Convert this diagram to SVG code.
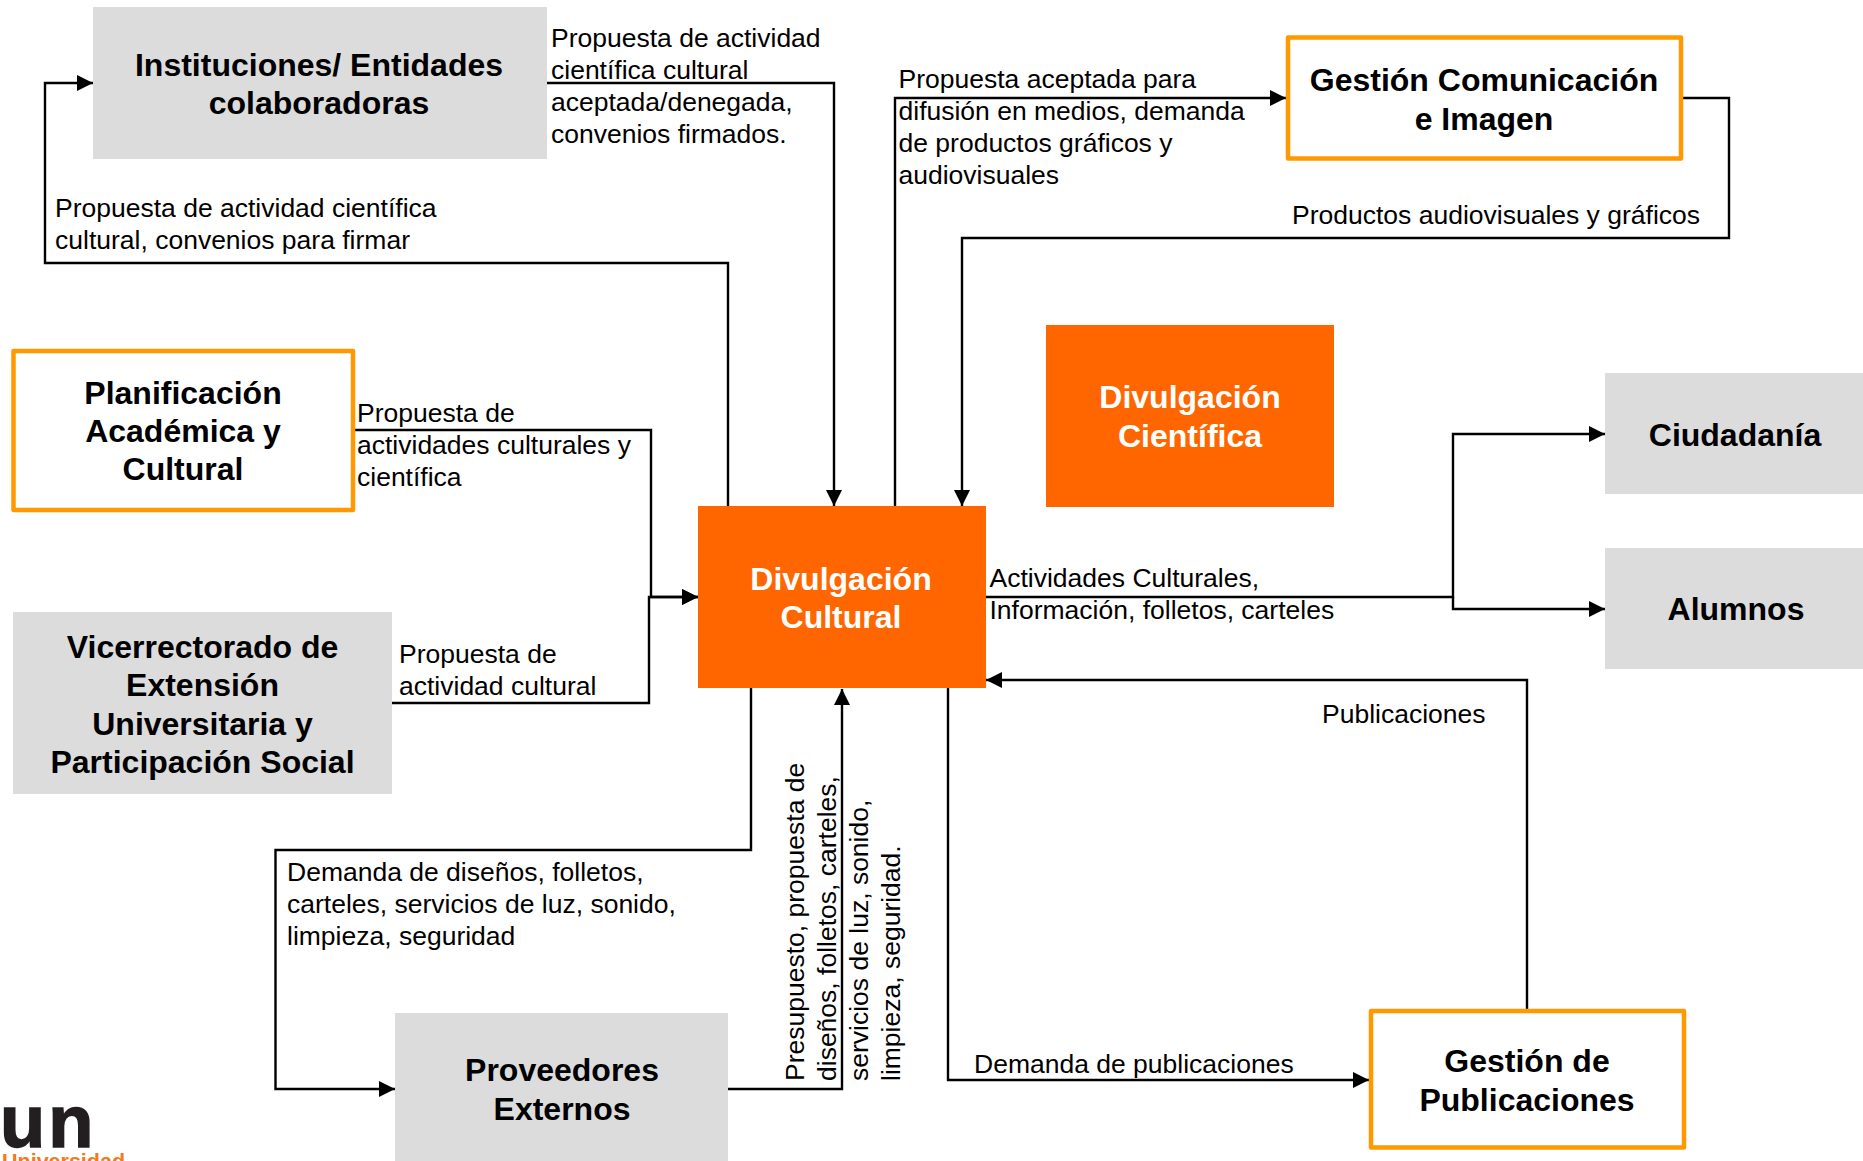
<svg xmlns="http://www.w3.org/2000/svg" width="1863" height="1161" viewBox="0 0 1863 1161">
<style>
text{font-family:"Liberation Sans",Arial,sans-serif;fill:#000}
.t{font-size:26.5px}
.b{font-size:32px;font-weight:700;text-anchor:middle}
.w{fill:#fff}
.g{fill:#dcdcdc}
.o{fill:#ff6600}
.h{fill:#fff;stroke:#ff9900;stroke-width:4.500;stroke-linejoin:round}
.c{fill:none;stroke:#000;stroke-width:2.4}
</style>
<defs><marker id="a" viewBox="0 0 16 16" refX="16" refY="8" markerWidth="16" markerHeight="16" markerUnits="userSpaceOnUse" orient="auto"><path d="M0 0L16 8L0 16Z" fill="#000"/></marker></defs>
<g id="connectors">
<path class="c" marker-end="url(#a)" d="M728 506V263H45V83H93"/>
<path class="c" marker-end="url(#a)" d="M547 83H834V506"/>
<path class="c" marker-end="url(#a)" d="M355 430H651V597H698"/>
<path class="c" marker-end="url(#a)" d="M392 703H649V597H698"/>
<path class="c" marker-end="url(#a)" d="M895 506V98H1286"/>
<path class="c" marker-end="url(#a)" d="M1683 98H1729V238H962V506"/>
<path class="c" marker-end="url(#a)" d="M986 597H1453V434H1605"/>
<path class="c" marker-end="url(#a)" d="M1453 597V609H1605"/>
<path class="c" marker-end="url(#a)" d="M1527 1010V680H986"/>
<path class="c" marker-end="url(#a)" d="M948 688V1080H1369"/>
<path class="c" marker-end="url(#a)" d="M751 688V850H275.500V1089H395"/>
<path class="c" marker-end="url(#a)" d="M728 1089H842V689"/>
</g>
<g id="instituciones"><rect class="g" x="93" y="7" width="454" height="152"/><text class="b" x="319" y="76">Instituciones/ Entidades</text><text class="b" x="319" y="114">colaboradoras</text></g>
<g id="planificacion"><rect class="h" x="13.500" y="351" width="339.500" height="159"/><text class="b" x="183" y="404">Planificación</text><text class="b" x="183" y="442">Académica y</text><text class="b" x="183" y="480">Cultural</text></g>
<g id="vicerrectorado"><rect class="g" x="13" y="612" width="379" height="182"/><text class="b" x="202.500" y="658">Vicerrectorado de</text><text class="b" x="202.500" y="696">Extensión</text><text class="b" x="202.500" y="735">Universitaria y</text><text class="b" x="202.500" y="773">Participación Social</text></g>
<g id="divulgacion-cultural"><rect class="o" x="698" y="506" width="288" height="182"/><text class="b w" x="841" y="590">Divulgación</text><text class="b w" x="841" y="628">Cultural</text></g>
<g id="divulgacion-cientifica"><rect class="o" x="1046" y="325" width="288" height="182"/><text class="b w" x="1190" y="408">Divulgación</text><text class="b w" x="1190" y="447">Científica</text></g>
<g id="gestion-comunicacion"><rect class="h" x="1288" y="37.500" width="393" height="121"/><text class="b" x="1484" y="91">Gestión Comunicación</text><text class="b" x="1484" y="130">e Imagen</text></g>
<g id="ciudadania"><rect class="g" x="1605" y="373" width="258" height="121"/><text class="b" x="1735" y="446">Ciudadanía</text></g>
<g id="alumnos"><rect class="g" x="1605" y="548" width="258" height="121"/><text class="b" x="1736" y="620">Alumnos</text></g>
<g id="proveedores"><rect class="g" x="395" y="1013" width="333" height="148"/><text class="b" x="562" y="1081">Proveedores</text><text class="b" x="562" y="1120">Externos</text></g>
<g id="gestion-publicaciones"><rect class="h" x="1371" y="1011" width="313" height="136.500"/><text class="b" x="1527" y="1072">Gestión de</text><text class="b" x="1527" y="1111">Publicaciones</text></g>
<g id="labels">
<text class="t" x="551" y="47">Propuesta de actividad</text><text class="t" x="551" y="79">científica cultural</text><text class="t" x="551" y="111">aceptada/denegada,</text><text class="t" x="551" y="143">convenios firmados.</text>
<text class="t" x="55" y="217">Propuesta de actividad científica</text><text class="t" x="55" y="249">cultural, convenios para firmar</text>
<text class="t" x="357" y="422">Propuesta de</text><text class="t" x="357" y="454">actividades culturales y</text><text class="t" x="357" y="486">científica</text>
<text class="t" x="399" y="663">Propuesta de</text><text class="t" x="399" y="695">actividad cultural</text>
<text class="t" x="898.500" y="88">Propuesta aceptada para</text><text class="t" x="898.500" y="120">difusión en medios, demanda</text><text class="t" x="898.500" y="152">de productos gráficos y</text><text class="t" x="898.500" y="184">audiovisuales</text>
<text class="t" x="1292" y="224">Productos audiovisuales y gráficos</text>
<text class="t" x="989.500" y="587">Actividades Culturales,</text><text class="t" x="989.500" y="619">Información, folletos, carteles</text>
<text class="t" x="1322" y="723">Publicaciones</text>
<text class="t" x="974" y="1073">Demanda de publicaciones</text>
<text class="t" x="287" y="881">Demanda de diseños, folletos,</text><text class="t" x="287" y="913">carteles, servicios de luz, sonido,</text><text class="t" x="287" y="945">limpieza, seguridad</text>
<g transform="translate(804 1081) rotate(-90)"><text class="t" x="0" y="0">Presupuesto, propuesta de</text><text class="t" x="0" y="32">diseños, folletos, carteles,</text><text class="t" x="0" y="64">servicios de luz, sonido,</text><text class="t" x="0" y="96">limpieza, seguridad.</text></g>
</g>
<g id="logo"><text x="0" y="1147" style="font-size:74px;font-weight:700;fill:#231f20;stroke:#231f20;stroke-width:1.500;letter-spacing:3px">un</text><text x="2" y="1169" style="font-size:21.500px;font-weight:700;fill:#f47920">Universidad</text></g>
</svg>
